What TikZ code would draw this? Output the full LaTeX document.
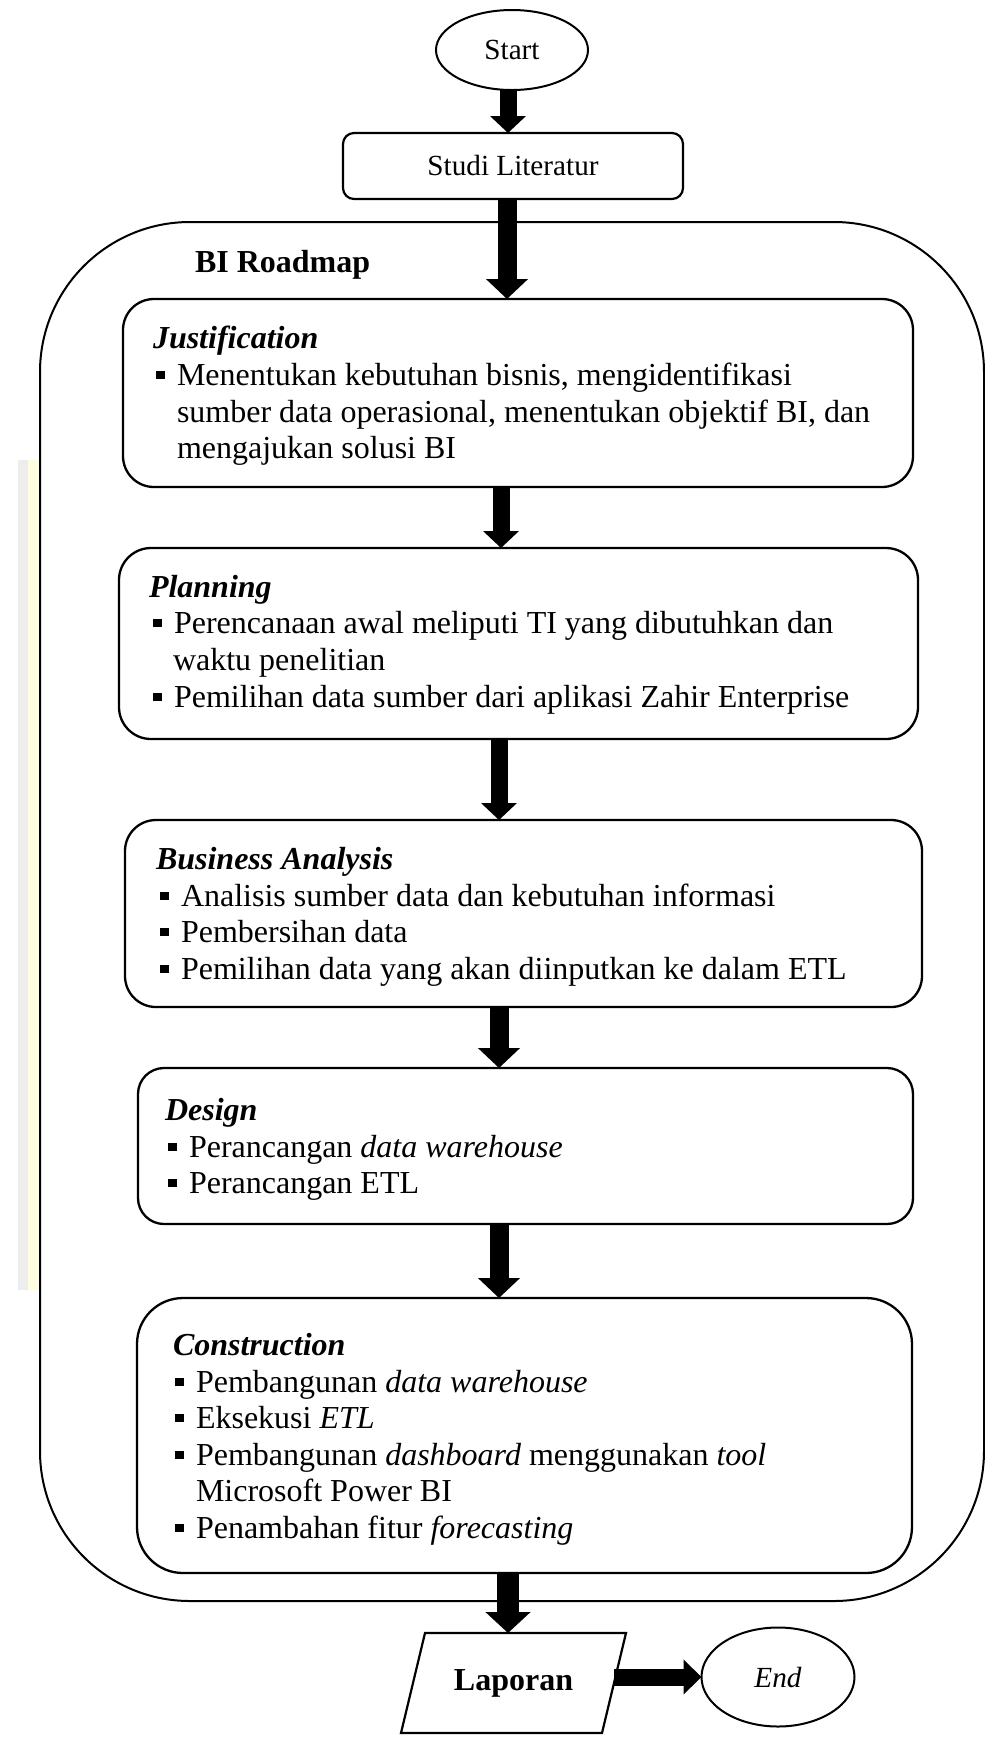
\documentclass[tikz,border=0pt]{standalone}
\usepackage{fontspec}
\setmainfont{Liberation Serif}
\usetikzlibrary{arrows.meta,shapes.geometric}

% small square bullet followed by the hanging indent of the list text
\newcommand{\bulsq}{\makebox[10.5pt][l]{\rule[3pt]{4.25pt}{4.25pt}}}

\begin{document}
\begin{tikzpicture}[x=0.5pt,y=-0.5pt,
  every node/.style={inner sep=0pt, outer sep=0pt},
  ln/.style={anchor=base west, font=\fontsize{16pt}{18.4pt}\selectfont},
  hd/.style={anchor=base west, font=\fontsize{16pt}{18.4pt}\selectfont\bfseries\itshape},
  phase/.style={draw, line width=1.15pt},
  term/.style={draw, ellipse, line width=1pt, font=\fontsize{14.6pt}{17pt}\selectfont},
  flow/.style={line width=9.5pt, -{Triangle[width=20.5pt,length=10pt]}},
  flowthin/.style={line width=8.5pt, -{Triangle[width=17.5pt,length=8.5pt]}},
  flowwide/.style={line width=11pt, -{Triangle[width=22pt,length=10.5pt]}},
  flowside/.style={line width=8.5pt, -{Triangle[width=17pt,length=9pt]}}
]
% canvas
\path[fill=white,use as bounding box] (0,0) rectangle (985,1742);

% faint background strip at the left margin
\fill[black!7] (18,460) rectangle (28,1290);
\fill[yellow!12] (28,460) rectangle (39,1290);

% terminals and study box
\node[term, minimum width=76pt, minimum height=40pt] (start) at (512,50) {Start};
\node[phase, line width=1.1pt, rounded corners=5.5pt, minimum width=170pt, minimum height=33pt,
      font=\fontsize{14.6pt}{17pt}\selectfont] (studi) at (513,166) {Studi Literatur};

% BI Roadmap container
\node[draw, line width=1pt, rounded corners=75pt, minimum width=472pt, minimum height=689.5pt] (bi) at (512,911.5) {};
\node[anchor=base west, font=\fontsize{16pt}{18.4pt}\selectfont\bfseries] (bititle) at (195,272) {BI Roadmap};

% phase boxes
\node[phase, rounded corners=15.5pt, minimum width=395pt, minimum height=94pt] (just) at (518,393) {};
\node[phase, rounded corners=16pt, minimum width=399.5pt, minimum height=95.5pt] (plan) at (518.5,643.5) {};
\node[phase, rounded corners=15.5pt, minimum width=398.5pt, minimum height=93.5pt] (ba) at (523.5,913.5) {};
\node[phase, rounded corners=13pt, minimum width=387.5pt, minimum height=78pt] (des) at (525.5,1146) {};
\node[phase, rounded corners=23pt, minimum width=387.5pt, minimum height=137.5pt] (con) at (524.5,1435.5) {};

% Justification
\node[hd] (jh) at (153,348) {Justification};
\node[ln] (j1) at (156,385) {\bulsq Menentukan kebutuhan bisnis, mengidentifikasi};
\node[ln] (j2) at (177,422) {sumber data operasional, menentukan objektif BI, dan};
\node[ln] (j3) at (177,458) {mengajukan solusi BI};

% Planning
\node[hd] (ph) at (149,597) {Planning};
\node[ln] (p1) at (153,633) {\bulsq Perencanaan awal meliputi TI yang dibutuhkan dan};
\node[ln] (p2) at (173,670) {waktu penelitian};
\node[ln] (p3) at (153,707) {\bulsq Pemilihan data sumber dari aplikasi Zahir Enterprise};

% Business Analysis
\node[hd] (bh) at (156,869) {Business Analysis};
\node[ln] (b1) at (160,906) {\bulsq Analisis sumber data dan kebutuhan informasi};
\node[ln] (b2) at (160,942) {\bulsq Pembersihan data};
\node[ln] (b3) at (160,979) {\bulsq Pemilihan data yang akan diinputkan ke dalam ETL};

% Design
\node[hd] (dh) at (165,1120) {Design};
\node[ln] (d1) at (168,1157) {\bulsq Perancangan \textit{data warehouse}};
\node[ln] (d2) at (168,1193) {\bulsq Perancangan ETL};

% Construction
\node[hd] (ch) at (173,1355) {Construction};
\node[ln] (c1) at (175,1392) {\bulsq Pembangunan \textit{data warehouse}};
\node[ln] (c2) at (175,1428) {\bulsq Eksekusi \textit{ETL}};
\node[ln] (c3) at (175,1465) {\bulsq Pembangunan \textit{dashboard} menggunakan \textit{tool}};
\node[ln] (c4) at (196,1501) {Microsoft Power BI};
\node[ln] (c5) at (175,1538) {\bulsq Penambahan fitur \textit{forecasting}};

% report (parallelogram) and end terminal
\node[minimum width=100.5pt, minimum height=50pt, font=\fontsize{16pt}{18.4pt}\selectfont\bfseries] (lap) at (513.5,1683) {Laporan};
\draw[line width=1.1pt, line join=miter]
  ([xshift=6pt]lap.north west) -- ([xshift=6pt]lap.north east)
  -- ([xshift=-6pt]lap.south east) -- ([xshift=-6pt]lap.south west) -- cycle;
\node[term, minimum width=76.5pt, minimum height=49.5pt, font=\fontsize{14.6pt}{17pt}\selectfont\itshape] (endn) at (778,1677) {End};

% arrow columns
\coordinate (cA) at (508,0);
\coordinate (cB) at (507,0);
\coordinate (cC) at (501,0);
\coordinate (cD) at (499,0);

% connectors
\draw[flowthin] (start.south -| cA) -- (studi.north -| cA);
\draw[flow] (studi.south -| cB) -- (just.north -| cB);
\draw[flowthin] (just.south -| cC) -- (plan.north -| cC);
\draw[flowthin] (plan.south -| cD) -- (ba.north -| cD);
\draw[flow] (ba.south -| cD) -- (des.north -| cD);
\draw[flow] (des.south -| cD) -- (con.north -| cD);
\draw[flowwide] (con.south -| cA) -- (lap.north -| cA);
\draw[flowside] (lap.east |- endn.west) -- (endn.west);
\end{tikzpicture}
\end{document}
